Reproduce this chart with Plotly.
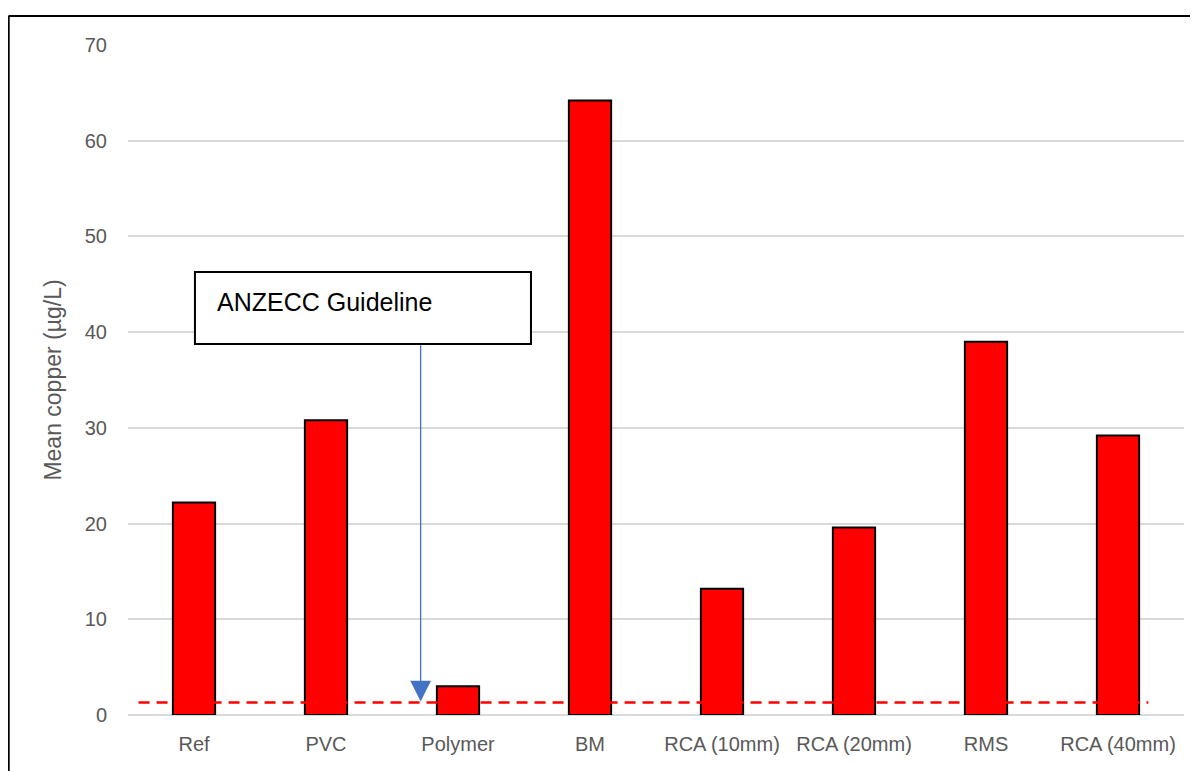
import plotly.graph_objects as go

# Mean copper per treatment
categories = ['Ref', 'PVC', 'Polymer', 'BM', 'RCA (10mm)', 'RCA (20mm)', 'RMS', 'RCA (40mm)']
mean_copper = [22.2, 30.8, 3.0, 64.2, 13.2, 19.6, 39.0, 29.2]
guideline = 1.3
y_ticks = [0, 10, 20, 30, 40, 50, 60, 70]

font_main = 'Liberation Sans, Arial, sans-serif'

fig = go.Figure()
fig.add_trace(go.Bar(
    x=categories, y=mean_copper,
    marker=dict(color='#FF0000', line=dict(color='black', width=2)),
    showlegend=False,
))

# page body adds an 8px margin, so the figure is a bit smaller than the window
fig.update_layout(
    width=1190, height=763,
    margin=dict(l=120, r=14, t=37, b=56),
    paper_bgcolor='white', plot_bgcolor='white',
    bargap=0.68,
    font=dict(family=font_main, color='#595959'),
    xaxis=dict(
        type='category', showgrid=False, showline=False, ticks='',
        tickfont=dict(size=20, color='#595959'), ticklabelstandoff=15,
    ),
    yaxis=dict(
        range=[0, 70], tickvals=y_ticks, showgrid=True, gridcolor='#d9d9d9', gridwidth=1.5,
        zeroline=True, zerolinecolor='#d9d9d9', zerolinewidth=1.5, showline=False,
        tickfont=dict(size=20, color='#595959'), ticklabelstandoff=20,
        title=dict(text='Mean copper (µg/L)', font=dict(size=23, color='#595959'), standoff=16),
    ),
)

# guideline dashed line
fig.add_shape(type='line', xref='x', yref='y', x0=-0.42, x1=7.23, y0=guideline, y1=guideline,
              line=dict(color='#FF0000', width=2.5, dash='11px,7px'), layer='above')

# label box
fig.add_shape(type='rect', xref='paper', yref='paper', x0=0.0634, x1=0.3816, y0=0.5537, y1=0.6612,
              line=dict(color='black', width=2), fillcolor='white', layer='above')
fig.add_annotation(xref='paper', yref='paper', x=0.0824, y=0.6164, xanchor='left', yanchor='middle',
                   text='ANZECC Guideline', showarrow=False,
                   font=dict(size=25, color='black', family=font_main))

# arrow from box down to guideline
fig.add_annotation(x=1.717, y=guideline + 0.1, ax=1.717, ay=38.8, xref='x', yref='y', axref='x', ayref='y',
                   text='', showarrow=True, arrowhead=2, arrowsize=3.2, arrowwidth=1.3,
                   arrowcolor='#4472C4')

# outer chart frame (top and left edges visible)
fig.add_shape(type='line', xref='paper', yref='paper', x0=-0.1132, x1=1.03, y0=1.0433, y1=1.0433,
              line=dict(color='black', width=2))
fig.add_shape(type='line', xref='paper', yref='paper', x0=-0.1132, x1=-0.1132, y0=-0.12, y1=1.0433,
              line=dict(color='black', width=2.5))

fig.write_html('out.html')
